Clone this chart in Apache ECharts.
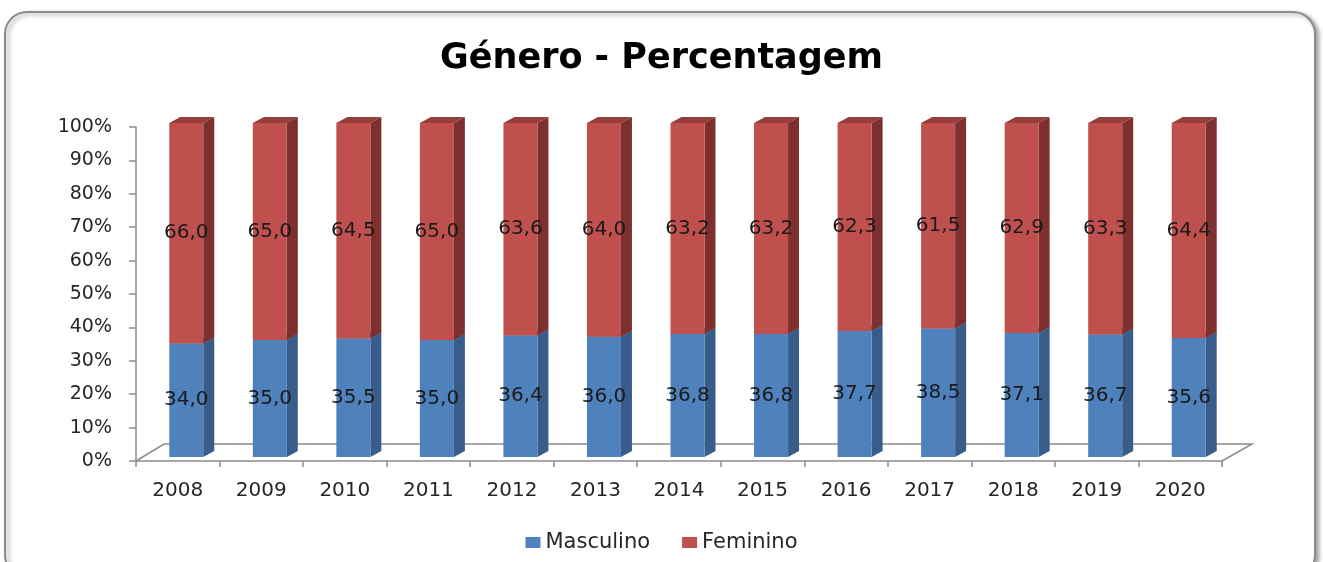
<!DOCTYPE html>
<html><head><meta charset="utf-8">
<script src="https://cdn.jsdelivr.net/npm/echarts@6/dist/echarts.min.js"></script>
<style>html,body{margin:0;padding:0;background:#fff}#c{width:1323px;height:562px}</style>
</head><body><div id="c"></div>
<script>
const years = ['2008','2009','2010','2011','2012','2013','2014','2015','2016','2017','2018','2019','2020'];
const masculino = [34.0,35.0,35.5,35.0,36.4,36.0,36.8,36.8,37.7,38.5,37.1,36.7,35.6];
const feminino  = [66.0,65.0,64.5,65.0,63.6,64.0,63.2,63.2,62.3,61.5,62.9,63.3,64.4];

const chart = echarts.init(document.getElementById('c'));
const FONT = 'DejaVu Sans';
const DX = 11, DY = -6, LIFT = -4, FW = 34, FOFF = 8.5;

function fmt(v){ return v.toFixed(1).replace('.', ','); }

function make3D(front, side, top){
  return function(params, api){
    const i = api.value(0), v0 = api.value(1), v1 = api.value(2);
    const pb = api.coord([i, v0]), pt = api.coord([i, v1]);
    const cx = pb[0] + FOFF;
    const xl = cx - FW/2, xr = cx + FW/2;
    const yb = pb[1] + LIFT, yt = pt[1] + LIFT;
    return {
      type: 'group',
      children: [
        {type:'polygon', shape:{points:[[xl,yt],[xr,yt],[xr+DX,yt+DY],[xl+DX,yt+DY]]}, style:{fill:top}},
        {type:'polygon', shape:{points:[[xr,yb],[xr+DX,yb+DY],[xr+DX,yt+DY],[xr,yt]]}, style:{fill:side}},
        {type:'rect', shape:{x:xl, y:yt, width:FW, height:yb-yt}, style:{fill:front}},
        {type:'text', z2: 10, style:{x:cx, y:(yt+yb)/2, text:fmt(v1-v0), fill:'#1a1a1a',
          font:'20px "DejaVu Sans"', textAlign:'center', textVerticalAlign:'middle'}}
      ]
    };
  };
}

const maleData = masculino.map((m,i)=>[i,0,m]);
const femData = feminino.map((f,i)=>[i,masculino[i],masculino[i]+f]);

chart.setOption({
  animation:false,
  graphic:[{type:'rect', z:-10, shape:{x:5,y:12,width:1310,height:565,r:22},
    style:{fill:'#fff', stroke:'#8c8c8c', lineWidth:2, shadowBlur:4, shadowOffsetX:3, shadowOffsetY:2, shadowColor:'rgba(0,0,0,0.35)'}}],
  title:{text:'Género - Percentagem', left:'center', top:36,
    textStyle:{fontFamily:FONT, fontWeight:'bold', fontSize:35, color:'#000'}},
  legend:{data:['Masculino','Feminino'], bottom:4, left:'center', icon:'rect', itemWidth:15, itemHeight:11, itemGap:32,
    textStyle:{fontFamily:FONT, fontSize:21, color:'#262626'}},
  grid:{left:136, right:101, top:127, bottom:101},
  xAxis:{type:'category', data:years, boundaryGap:true,
    axisLine:{lineStyle:{color:'#8c8c8c', width:1.5}},
    axisTick:{show:true, length:6, interval:0, lineStyle:{color:'#8c8c8c', width:1.5}},
    axisLabel:{fontFamily:FONT, fontSize:20, color:'#262626', margin:20, interval:0}},
  yAxis:{type:'value', min:0, max:100, interval:10,
    axisLine:{show:true, lineStyle:{color:'#8c8c8c', width:1.5}},
    axisTick:{show:true, length:7, lineStyle:{color:'#8c8c8c', width:1.5}},
    splitLine:{show:false},
    axisLabel:{formatter:'{value}%', fontFamily:FONT, fontSize:19, color:'#262626', margin:24}},
  series:[
    {type:'custom', name:'floor', silent:true, z:1, data:[[0,0,0]],
      renderItem:function(params, api){
        const cs = params.coordSys;
        const x = cs.x, y = cs.y + cs.height, w = cs.width;
        return {type:'polyline', shape:{points:[[x,y],[x+28,y-17],[x+w+30,y-17],[x+w,y]]},
          style:{stroke:'#8c8c8c', lineWidth:1.5, fill:null}};
      }},
    {type:'custom', name:'Masculino', z:2, itemStyle:{color:'#4F81BD'}, encode:{x:0, y:[1,2]},
      data:maleData, renderItem:make3D('#4F81BD','#385D8A','#3F6797')},
    {type:'custom', name:'Feminino', z:3, itemStyle:{color:'#C0504D'}, encode:{x:0, y:[1,2]},
      data:femData, renderItem:make3D('#C0504D','#7D302E','#953E3B')}
  ]
});
</script></body></html>
